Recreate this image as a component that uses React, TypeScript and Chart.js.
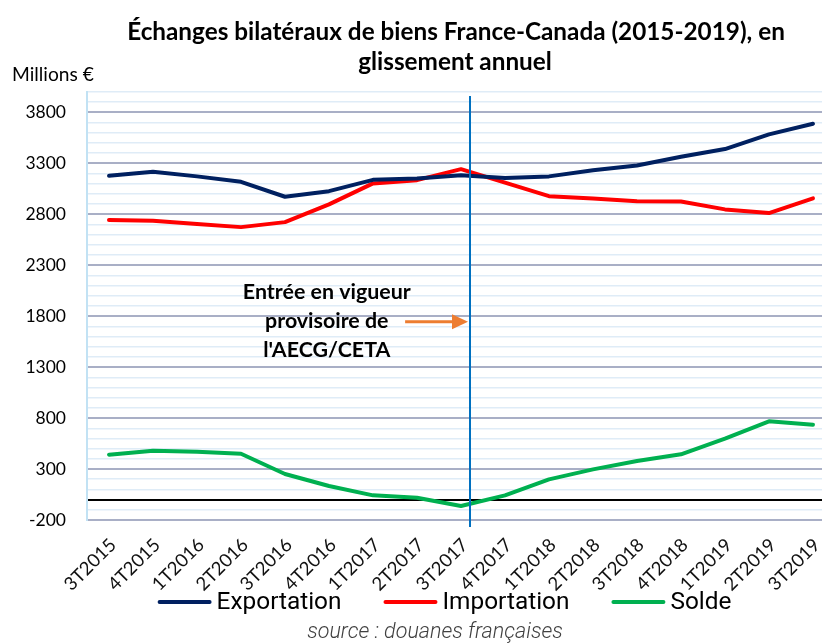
import React, { useEffect, useRef } from 'react';
import { Chart, registerables } from 'chart.js';

Chart.register(...registerables);

const categories = ['3T2015', '4T2015', '1T2016', '2T2016', '3T2016', '4T2016', '1T2017', '2T2017', '3T2017', '4T2017', '1T2018', '2T2018', '3T2018', '4T2018', '1T2019', '2T2019', '3T2019'];
const exportation = [3178, 3217, 3172, 3119, 2972, 3027, 3138, 3152, 3183, 3155, 3172, 3233, 3279, 3364, 3440, 3584, 3688];
const importation = [2743, 2736, 2704, 2674, 2723, 2897, 3103, 3135, 3243, 3110, 2978, 2956, 2929, 2926, 2848, 2812, 2956];
const solde = [441, 480, 470, 450, 251, 134, 42, 19, -62, 42, 199, 297, 379, 445, 598, 768, 735];
const yMajorTicks = [-200, 300, 800, 1300, 1800, 2300, 2800, 3300, 3800];

const seriesNames = ['Exportation', 'Importation', 'Solde'];
const seriesColors = ['#002060', '#FF0000', '#00B050'];

const titleLines = ['Échanges bilatéraux de biens France-Canada (2015-2019), en', 'glissement annuel'];
const yUnit = 'Millions €';
const annotationLines = ['Entrée en vigueur', 'provisoire de', "l'AECG/CETA"];
const sourceText = 'source : douanes françaises';

// annotation anchors, in data units
const CETA_POS = 8.2;
const ARROW_START = 6.73;
const ARROW_Y = 1745;
const ANNOT_X = 4.95;

function fitSize(ctx: CanvasRenderingContext2D, text: string, style: string, weight: string, family: string, target: number) {
  ctx.font = `${style} ${weight} 100px ${family}`;
  const w = ctx.measureText(text).width;
  return (100 * target) / w;
}

const overlay = {
  id: 'overlay',
  afterDatasetsDraw(chart: any) {
    const { ctx, chartArea, scales } = chart;
    const x = scales.x;
    const y = scales.y;
    const px = Math.round(x.getPixelForValue(CETA_POS));
    ctx.save();
    ctx.strokeStyle = '#0070C0';
    ctx.lineWidth = 2;
    ctx.beginPath();
    ctx.moveTo(px, chartArea.top + 4);
    ctx.lineTo(px, chartArea.bottom + 7);
    ctx.stroke();

    // arrow
    const ay = y.getPixelForValue(ARROW_Y);
    const ax0 = x.getPixelForValue(ARROW_START);
    const ax1 = px - 2;
    ctx.strokeStyle = '#ED7D31';
    ctx.fillStyle = '#ED7D31';
    ctx.lineWidth = 3;
    ctx.beginPath();
    ctx.moveTo(ax0, ay);
    ctx.lineTo(ax1 - 12, ay);
    ctx.stroke();
    ctx.beginPath();
    ctx.moveTo(ax1, ay);
    ctx.lineTo(ax1 - 16, ay - 7.5);
    ctx.lineTo(ax1 - 16, ay + 7.5);
    ctx.closePath();
    ctx.fill();

    // annotation text
    const cx = x.getPixelForValue(ANNOT_X);
    const s = fitSize(ctx, annotationLines[0], 'normal', 'bold', 'Lato', 168);
    ctx.font = `bold ${s}px Lato`;
    ctx.fillStyle = '#000';
    ctx.textAlign = 'center';
    ctx.textBaseline = 'middle';
    annotationLines.forEach((t, i) => {
      ctx.fillText(t, cx, ay + (i - 1) * 29 - 1);
    });
    ctx.restore();
  },
  afterDraw(chart: any) {
    const { ctx } = chart;
    ctx.save();
    ctx.fillStyle = '#000';
    ctx.textBaseline = 'middle';
    // title
    const ts = fitSize(ctx, titleLines[0], 'normal', 'bold', 'Lato', 658);
    ctx.font = `bold ${ts}px Lato`;
    ctx.textAlign = 'center';
    ctx.fillText(titleLines[0], 456, 32);
    ctx.fillText(titleLines[1], 455, 62);

    // unit
    const us = fitSize(ctx, yUnit, 'normal', 'normal', 'Lato', 82);
    ctx.font = `${us}px Lato`;
    ctx.textAlign = 'left';
    ctx.fillText(yUnit, 12, 75);

    // legend
    const ls = fitSize(ctx, seriesNames[0], 'normal', 'normal', 'Roboto', 125);
    ctx.font = `${ls}px Roboto`;
    const lineW = 54;
    const gapTxt = 5;
    const gapItem = 42;
    const widths = seriesNames.map((n) => ctx.measureText(n).width);
    const total = widths.reduce((a, w) => a + lineW + gapTxt + w, 0) + gapItem * (seriesNames.length - 1);
    let lx = 444.5 - total / 2;
    const ly = 602;
    seriesNames.forEach((n, i) => {
      ctx.strokeStyle = seriesColors[i];
      ctx.lineWidth = 4;
      ctx.lineCap = 'round';
      ctx.beginPath();
      ctx.moveTo(lx + 2, ly);
      ctx.lineTo(lx + lineW - 2, ly);
      ctx.stroke();
      ctx.fillStyle = '#000';
      ctx.fillText(n, lx + lineW + gapTxt, ly + 1);
      lx += lineW + gapTxt + widths[i] + gapItem;
    });

    // source
    const ss = fitSize(ctx, sourceText, 'italic', '300', 'Roboto', 256);
    ctx.font = `italic 300 ${ss}px Roboto`;
    ctx.fillStyle = '#404040';
    ctx.textAlign = 'center';
    ctx.fillText(sourceText, 435, 633);
    ctx.restore();
  },
};

export default function App() {
  const ref = useRef<HTMLCanvasElement | null>(null);
  useEffect(() => {
    document.body.style.margin = '0';
    const canvas = ref.current;
    if (!canvas) return;
    const mk = (arr: number[]) => arr.map((v, i) => ({ x: i, y: v }));
    const chart = new Chart(canvas, {
      type: 'line',
      data: {
        datasets: [exportation, importation, solde].map((arr, i) => ({
          label: seriesNames[i],
          data: mk(arr),
          borderColor: seriesColors[i],
          backgroundColor: seriesColors[i],
          borderWidth: 4,
          pointRadius: 0,
          tension: 0,
          borderCapStyle: 'round' as const,
          borderJoinStyle: 'round' as const,
          clip: false as any,
        })),
      },
      options: {
        animation: false,
        responsive: false,
        devicePixelRatio: 1,
        layout: { padding: { top: 92, left: 0, right: 0, bottom: 4 } },
        plugins: { legend: { display: false }, title: { display: false }, tooltip: { enabled: false } },
        scales: {
          x: {
            type: 'linear',
            min: -0.5,
            max: 16.205,
            grid: { display: false, drawTicks: false },
            border: { display: false },
            afterBuildTicks: (scale: any) => {
              scale.ticks = categories.map((_, i) => ({ value: i }));
            },
            afterFit: (scale: any) => {
              scale.height = 120;
              scale.paddingLeft = 0;
              scale.paddingRight = 0;
            },
            ticks: {
              autoSkip: false,
              minRotation: 45,
              maxRotation: 45,
              padding: 14,
              labelOffset: 4,
              color: '#111',
              font: { family: 'Lato', size: 18.5 },
              callback: (v: any) => categories[v] ?? '',
            },
          },
          y: {
            type: 'linear',
            min: -200,
            max: 4000,
            afterFit: (scale: any) => {
              scale.width = 87;
              scale.paddingTop = 0;
              scale.paddingBottom = 0;
            },
            border: { display: true, color: '#C2E2F4', width: 2 },
            grid: {
              drawTicks: false,
              color: (c: any) => {
                const v = c.tick?.value;
                if (v === 0) return '#000000';
                if (yMajorTicks.includes(v)) return '#A9AFC6';
                return '#DFECF7';
              },
              lineWidth: (c: any) => {
                const v = c.tick?.value;
                if (v === 0) return 2;
                if (yMajorTicks.includes(v)) return 2;
                return 1.5;
              },
            },
            ticks: {
              stepSize: 100,
              autoSkip: false,
              padding: 21,
              color: '#000',
              font: { family: 'Lato', size: 17.5 },
              callback: (v: any) => (yMajorTicks.includes(v) ? String(v) : ''),
            },
          },
        },
      },
      plugins: [overlay],
    } as any);
    return () => chart.destroy();
  }, []);
  return <canvas ref={ref} width={822} height={644} style={{ display: 'block' }} />;
}
